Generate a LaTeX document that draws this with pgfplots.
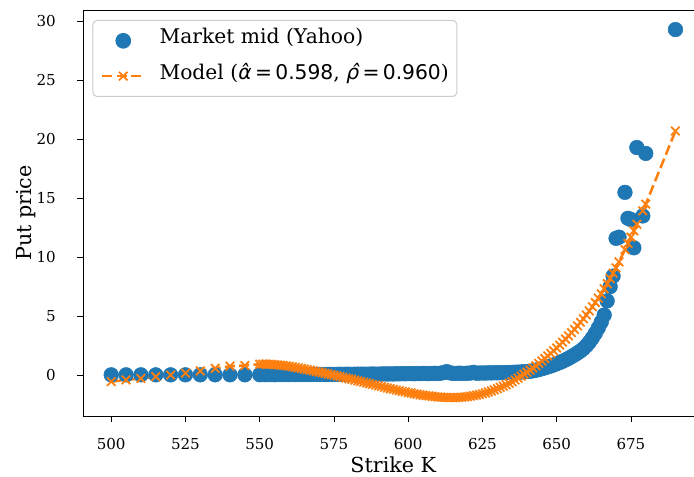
\documentclass[border=0pt]{standalone}
\usepackage{pgfplots}
\usepackage{pgfplotstable}
\pgfplotsset{compat=1.18}
\usepackage{fontspec}
\setmainfont{DejaVu Serif}
\newfontfamily\dvsans{DejaVu Sans}
\definecolor{tabblue}{HTML}{1F77B4}
\definecolor{taborange}{HTML}{FF7F0E}
\pgfplotstableread{
K mkt mod
500 0.03 -0.55
505 0.03 -0.40
510 0.03 -0.28
515 0.03 -0.12
520 0.03 0.02
525 0.03 0.17
530 0.03 0.36
535 0.03 0.58
540 0.03 0.76
545 0.03 0.82
550 0.04 0.93
551 0.05 0.94
552 0.04 0.94
553 0.05 0.93
554 0.05 0.92
555 0.04 0.90
556 0.05 0.88
557 0.05 0.85
558 0.06 0.82
559 0.05 0.79
560 0.05 0.75
561 0.06 0.71
562 0.05 0.66
563 0.06 0.62
564 0.06 0.57
565 0.05 0.52
566 0.06 0.47
567 0.06 0.42
568 0.07 0.37
569 0.06 0.32
570 0.06 0.27
571 0.07 0.22
572 0.06 0.16
573 0.07 0.11
574 0.07 0.05
575 0.06 0.00
576 0.07 -0.06
577 0.08 -0.12
578 0.07 -0.18
579 0.08 -0.24
580 0.08 -0.30
581 0.07 -0.36
582 0.08 -0.42
583 0.09 -0.48
584 0.08 -0.54
585 0.09 -0.60
586 0.08 -0.66
587 0.09 -0.72
588 0.10 -0.78
589 0.09 -0.84
590 0.09 -0.90
591 0.10 -0.96
592 0.11 -1.02
593 0.10 -1.08
594 0.11 -1.14
595 0.10 -1.20
596 0.12 -1.26
597 0.11 -1.31
598 0.13 -1.37
599 0.12 -1.42
600 0.14 -1.48
601 0.13 -1.52
602 0.12 -1.57
603 0.14 -1.61
604 0.13 -1.66
605 0.15 -1.70
606 0.14 -1.73
607 0.13 -1.76
608 0.15 -1.79
609 0.16 -1.82
610 0.14 -1.85
611 0.17 -1.86
612 0.22 -1.88
613 0.30 -1.89
614 0.20 -1.90
615 0.16 -1.90
616 0.15 -1.90
617 0.17 -1.89
618 0.16 -1.87
619 0.15 -1.85
620 0.17 -1.82
621 0.18 -1.78
622 0.24 -1.74
623 0.17 -1.69
624 0.18 -1.64
625 0.19 -1.58
626 0.18 -1.50
627 0.20 -1.42
628 0.19 -1.34
629 0.21 -1.25
630 0.20 -1.15
631 0.21 -1.04
632 0.22 -0.93
633 0.21 -0.81
634 0.23 -0.68
635 0.24 -0.55
636 0.25 -0.40
637 0.26 -0.25
638 0.27 -0.09
639 0.29 0.08
640 0.30 0.25
641 0.33 0.43
642 0.37 0.61
643 0.42 0.80
644 0.48 1.00
645 0.55 1.20
646 0.62 1.41
647 0.70 1.63
648 0.78 1.85
649 0.87 2.07
650 0.97 2.30
651 1.07 2.55
652 1.18 2.80
653 1.30 3.06
654 1.43 3.33
655 1.57 3.60
656 1.72 3.89
657 1.88 4.18
658 2.05 4.48
659 2.25 4.79
660 2.50 5.10
661 2.80 5.45
662 3.15 5.80
663 3.55 6.16
664 4.00 6.53
665 4.50 6.90
666 5.10 7.33
667 6.30 7.76
668 7.50 8.20
669 8.40 8.65
670 11.60 9.10
671 11.70 9.61
673 15.50 10.64
674 13.30 11.17
675 13.20 11.70
676 10.80 12.25
677 19.30 12.80
679 13.50 13.93
680 18.80 14.50
690 29.30 20.70
}\datatable
\begin{document}
\begin{tikzpicture}
\begin{axis}[
  name=ax,
  scale only axis,
  width=465.5pt, height=304.5pt,
  xmin=490.5, xmax=699.5, ymin=-3.46, ymax=30.96,
  xtick={500,525,...,675}, ytick={0,5,...,30},
  xtick pos=lower, ytick pos=left,
  tick align=outside, major tick length=4.5pt,
  tick style={black, line width=0.6pt},
  axis line style={black, line width=0.6pt},
  /pgf/number format/assume math mode=true,
  ticklabel style={font=\fontsize{11.3}{13}\selectfont},
  xticklabel style={anchor=base, yshift=-20.3pt},
  yticklabel style={anchor=east, inner xsep=0pt, xshift=-15.75pt},
  label style={font=\fontsize{15.5}{18}\selectfont},
  xlabel={Strike K},
  xlabel style={at={([yshift=-42.5pt]axis description cs:0.5,0)}, anchor=base},
  ylabel={Put price},
  ylabel style={at={([xshift=-42.6pt]axis description cs:0,0.5)}, anchor=center},
  legend cell align=left,
  legend style={at={(0.0153,0.9754)}, anchor=north west,
    draw=black!20, line width=0.75pt, rounded corners=3pt,
    fill=white, fill opacity=0.8, text opacity=1,
    font=\fontsize{15.2}{18}\selectfont,
    inner xsep=6pt, inner ysep=5pt, row sep=6pt,
    nodes={inner xsep=0pt, inner ysep=0pt, text height=12.5pt, text depth=8pt}},
]
\addplot[only marks, mark=*, mark size=5.5pt, color=tabblue,
  mark options={draw=tabblue, fill=tabblue},
  legend image code/.code={\draw[fill opacity=1, draw opacity=1, mark repeat=2,mark phase=2] plot coordinates {(-0.75pt,0pt) (15pt,0pt) (30.75pt,0pt)}; \path (41.25pt,0pt);}]
  table[x=K, y=mkt] {\datatable};
\addlegendentry{Market mid (Yahoo)}
\addplot[color=taborange, line width=1.9pt, dash pattern=on 7.5pt off 3.25pt,
  mark=x, mark size=4.5pt, mark options={solid, line width=1.35pt},
  legend image code/.code={\draw[fill opacity=1, draw opacity=1, mark repeat=2,mark phase=2] plot coordinates {(-0.75pt,0pt) (15pt,0pt) (30.75pt,0pt)}; \path (41.25pt,0pt);}]
  table[x=K, y=mod] {\datatable};
\addlegendentry{Model ({\dvsans\itshape α̂}{\dvsans\,=\,0.598}, {\dvsans\itshape ρ̂}{\dvsans\,=\,0.960})}
\end{axis}
\pgfresetboundingbox
\path[use as bounding box] ([shift={(-62.25pt,-45.75pt)}]ax.south west) rectangle ([shift={(458.25pt,312pt)}]ax.south west);
\end{tikzpicture}
\end{document}
